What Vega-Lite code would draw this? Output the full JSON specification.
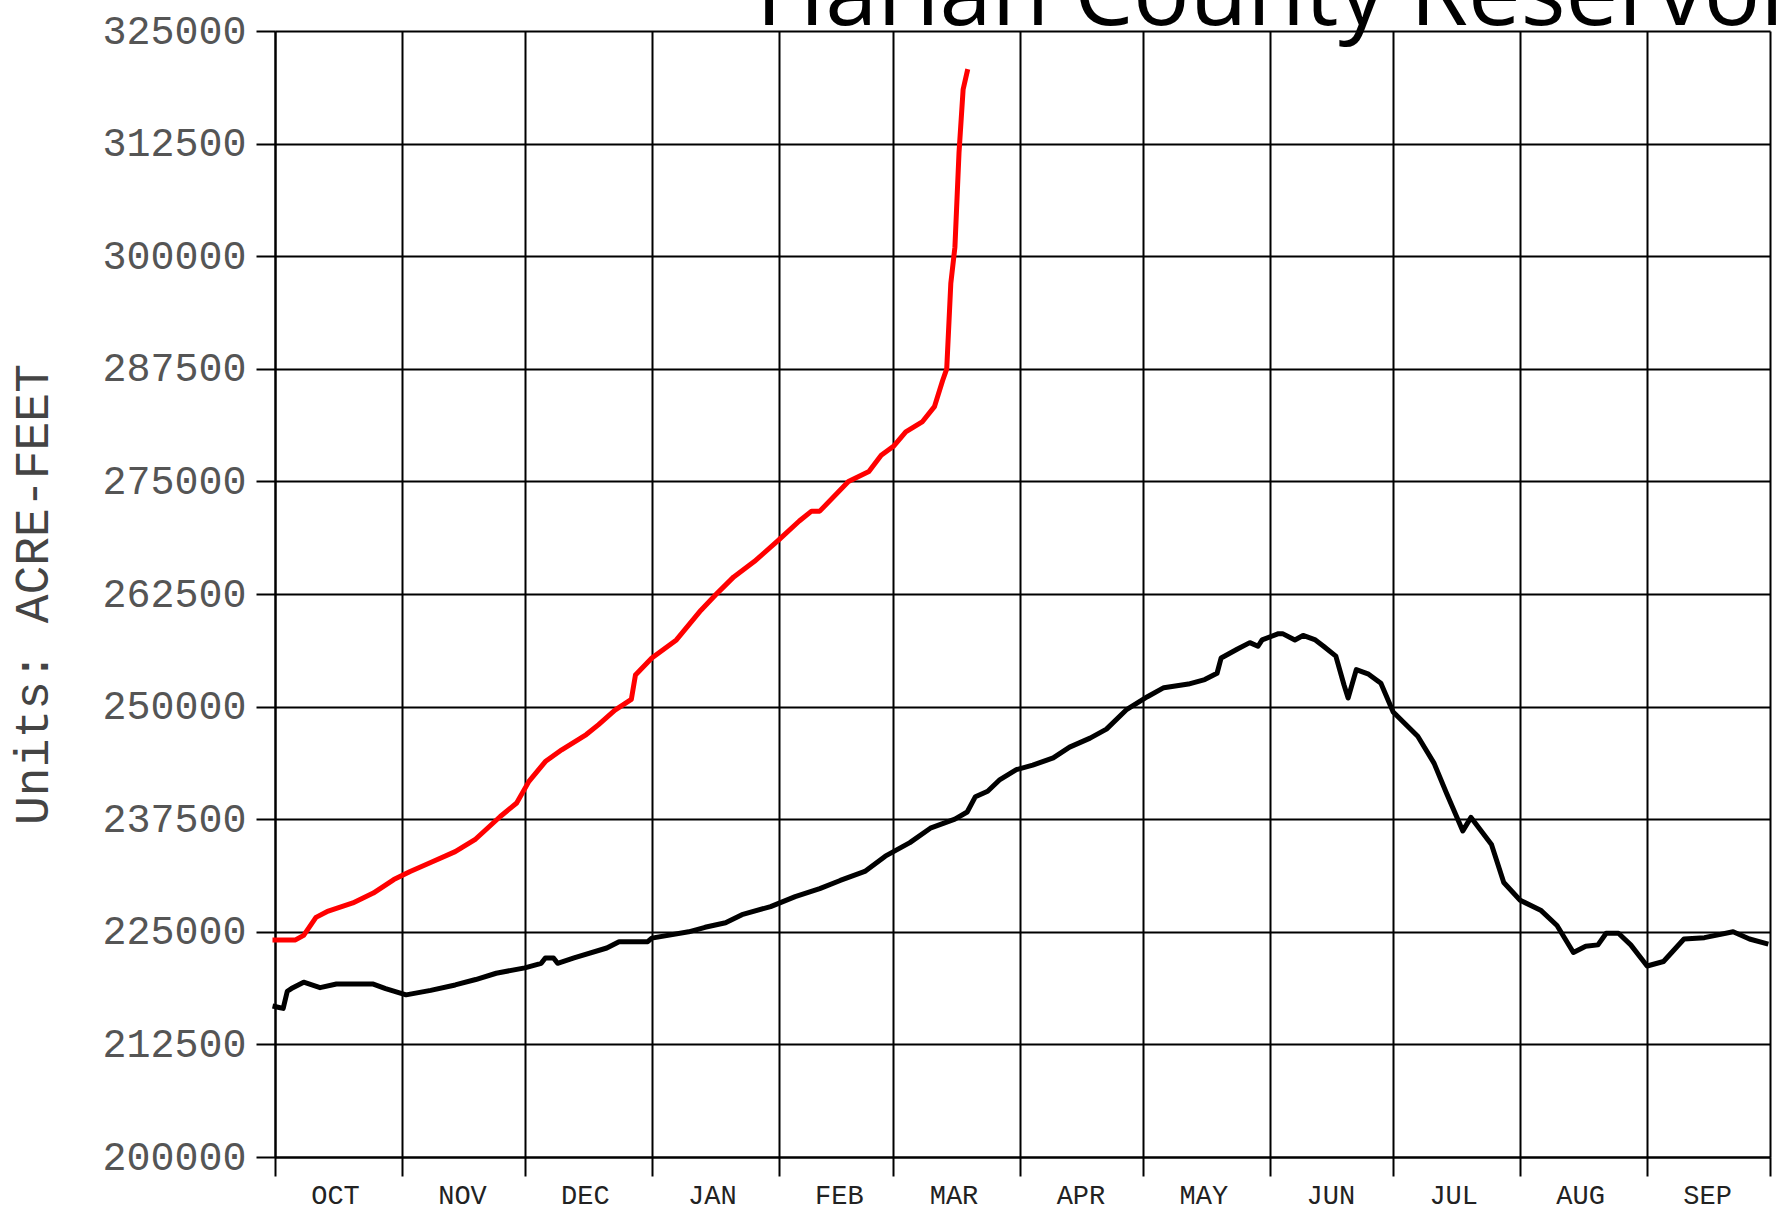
{
  "$schema": "https://vega.github.io/schema/vega-lite/v6.json",
  "autosize": {"type": "none"},
  "width": 1495,
  "height": 1126,
  "padding": {"left": 275, "top": 31, "right": 11, "bottom": 54},
  "background": "white",
  "config": {
    "view": {"stroke": null},
    "axis": {
      "grid": true,
      "gridColor": "black",
      "gridWidth": 2,
      "gridOpacity": 1,
      "domainColor": "black",
      "domainWidth": 2,
      "tickColor": "black",
      "tickWidth": 2,
      "tickSize": 19
    }
  },
  "datasets": {
    "storage": [
      {"date": "2018-10-01", "series": "Average", "acre_feet": 216700},
      {"date": "2018-10-02", "series": "Average", "acre_feet": 216600},
      {"date": "2018-10-03", "series": "Average", "acre_feet": 216500},
      {"date": "2018-10-04", "series": "Average", "acre_feet": 218400},
      {"date": "2018-10-05", "series": "Average", "acre_feet": 218700},
      {"date": "2018-10-08", "series": "Average", "acre_feet": 219400},
      {"date": "2018-10-12", "series": "Average", "acre_feet": 218800},
      {"date": "2018-10-16", "series": "Average", "acre_feet": 219200},
      {"date": "2018-10-25", "series": "Average", "acre_feet": 219200},
      {"date": "2018-10-28", "series": "Average", "acre_feet": 218700},
      {"date": "2018-11-02", "series": "Average", "acre_feet": 218000},
      {"date": "2018-11-08", "series": "Average", "acre_feet": 218500},
      {"date": "2018-11-14", "series": "Average", "acre_feet": 219100},
      {"date": "2018-11-19", "series": "Average", "acre_feet": 219700},
      {"date": "2018-11-24", "series": "Average", "acre_feet": 220400},
      {"date": "2018-12-01", "series": "Average", "acre_feet": 221000},
      {"date": "2018-12-05", "series": "Average", "acre_feet": 221500},
      {"date": "2018-12-06", "series": "Average", "acre_feet": 222100},
      {"date": "2018-12-08", "series": "Average", "acre_feet": 222100},
      {"date": "2018-12-09", "series": "Average", "acre_feet": 221500},
      {"date": "2018-12-13", "series": "Average", "acre_feet": 222100},
      {"date": "2018-12-21", "series": "Average", "acre_feet": 223200},
      {"date": "2018-12-24", "series": "Average", "acre_feet": 223900},
      {"date": "2018-12-31", "series": "Average", "acre_feet": 223900},
      {"date": "2019-01-01", "series": "Average", "acre_feet": 224300},
      {"date": "2019-01-10", "series": "Average", "acre_feet": 225000},
      {"date": "2019-01-14", "series": "Average", "acre_feet": 225500},
      {"date": "2019-01-19", "series": "Average", "acre_feet": 226000},
      {"date": "2019-01-23", "series": "Average", "acre_feet": 226900},
      {"date": "2019-01-30", "series": "Average", "acre_feet": 227800},
      {"date": "2019-02-05", "series": "Average", "acre_feet": 228900},
      {"date": "2019-02-11", "series": "Average", "acre_feet": 229800},
      {"date": "2019-02-16", "series": "Average", "acre_feet": 230700},
      {"date": "2019-02-22", "series": "Average", "acre_feet": 231700},
      {"date": "2019-02-27", "series": "Average", "acre_feet": 233400},
      {"date": "2019-03-05", "series": "Average", "acre_feet": 234900},
      {"date": "2019-03-10", "series": "Average", "acre_feet": 236500},
      {"date": "2019-03-16", "series": "Average", "acre_feet": 237500},
      {"date": "2019-03-19", "series": "Average", "acre_feet": 238300},
      {"date": "2019-03-21", "series": "Average", "acre_feet": 240000},
      {"date": "2019-03-24", "series": "Average", "acre_feet": 240600},
      {"date": "2019-03-27", "series": "Average", "acre_feet": 241900},
      {"date": "2019-03-31", "series": "Average", "acre_feet": 243000},
      {"date": "2019-04-04", "series": "Average", "acre_feet": 243500},
      {"date": "2019-04-09", "series": "Average", "acre_feet": 244300},
      {"date": "2019-04-13", "series": "Average", "acre_feet": 245500},
      {"date": "2019-04-18", "series": "Average", "acre_feet": 246500},
      {"date": "2019-04-22", "series": "Average", "acre_feet": 247500},
      {"date": "2019-04-27", "series": "Average", "acre_feet": 249700},
      {"date": "2019-05-02", "series": "Average", "acre_feet": 251100},
      {"date": "2019-05-06", "series": "Average", "acre_feet": 252100},
      {"date": "2019-05-12", "series": "Average", "acre_feet": 252500},
      {"date": "2019-05-16", "series": "Average", "acre_feet": 253000},
      {"date": "2019-05-19", "series": "Average", "acre_feet": 253700},
      {"date": "2019-05-20", "series": "Average", "acre_feet": 255400},
      {"date": "2019-05-24", "series": "Average", "acre_feet": 256400},
      {"date": "2019-05-27", "series": "Average", "acre_feet": 257100},
      {"date": "2019-05-29", "series": "Average", "acre_feet": 256700},
      {"date": "2019-05-30", "series": "Average", "acre_feet": 257400},
      {"date": "2019-06-03", "series": "Average", "acre_feet": 258100},
      {"date": "2019-06-04", "series": "Average", "acre_feet": 258100},
      {"date": "2019-06-07", "series": "Average", "acre_feet": 257400},
      {"date": "2019-06-09", "series": "Average", "acre_feet": 257900},
      {"date": "2019-06-12", "series": "Average", "acre_feet": 257400},
      {"date": "2019-06-14", "series": "Average", "acre_feet": 256700},
      {"date": "2019-06-17", "series": "Average", "acre_feet": 255600},
      {"date": "2019-06-19", "series": "Average", "acre_feet": 252400},
      {"date": "2019-06-20", "series": "Average", "acre_feet": 250950},
      {"date": "2019-06-22", "series": "Average", "acre_feet": 254100},
      {"date": "2019-06-25", "series": "Average", "acre_feet": 253600},
      {"date": "2019-06-28", "series": "Average", "acre_feet": 252600},
      {"date": "2019-07-01", "series": "Average", "acre_feet": 249400},
      {"date": "2019-07-07", "series": "Average", "acre_feet": 246700},
      {"date": "2019-07-11", "series": "Average", "acre_feet": 243700},
      {"date": "2019-07-14", "series": "Average", "acre_feet": 240400},
      {"date": "2019-07-18", "series": "Average", "acre_feet": 236200},
      {"date": "2019-07-20", "series": "Average", "acre_feet": 237700},
      {"date": "2019-07-25", "series": "Average", "acre_feet": 234700},
      {"date": "2019-07-28", "series": "Average", "acre_feet": 230470},
      {"date": "2019-08-01", "series": "Average", "acre_feet": 228500},
      {"date": "2019-08-06", "series": "Average", "acre_feet": 227400},
      {"date": "2019-08-10", "series": "Average", "acre_feet": 225700},
      {"date": "2019-08-14", "series": "Average", "acre_feet": 222700},
      {"date": "2019-08-17", "series": "Average", "acre_feet": 223400},
      {"date": "2019-08-20", "series": "Average", "acre_feet": 223550},
      {"date": "2019-08-22", "series": "Average", "acre_feet": 224840},
      {"date": "2019-08-25", "series": "Average", "acre_feet": 224840},
      {"date": "2019-08-28", "series": "Average", "acre_feet": 223550},
      {"date": "2019-09-01", "series": "Average", "acre_feet": 221200},
      {"date": "2019-09-05", "series": "Average", "acre_feet": 221700},
      {"date": "2019-09-10", "series": "Average", "acre_feet": 224200},
      {"date": "2019-09-15", "series": "Average", "acre_feet": 224350},
      {"date": "2019-09-22", "series": "Average", "acre_feet": 225000},
      {"date": "2019-09-26", "series": "Average", "acre_feet": 224200},
      {"date": "2019-09-30", "series": "Average", "acre_feet": 223700},

      {"date": "2018-10-01", "series": "WY2019", "acre_feet": 224100},
      {"date": "2018-10-06", "series": "WY2019", "acre_feet": 224100},
      {"date": "2018-10-08", "series": "WY2019", "acre_feet": 224600},
      {"date": "2018-10-11", "series": "WY2019", "acre_feet": 226600},
      {"date": "2018-10-14", "series": "WY2019", "acre_feet": 227300},
      {"date": "2018-10-20", "series": "WY2019", "acre_feet": 228200},
      {"date": "2018-10-25", "series": "WY2019", "acre_feet": 229300},
      {"date": "2018-10-30", "series": "WY2019", "acre_feet": 230800},
      {"date": "2018-11-03", "series": "WY2019", "acre_feet": 231700},
      {"date": "2018-11-08", "series": "WY2019", "acre_feet": 232700},
      {"date": "2018-11-14", "series": "WY2019", "acre_feet": 233900},
      {"date": "2018-11-19", "series": "WY2019", "acre_feet": 235300},
      {"date": "2018-11-25", "series": "WY2019", "acre_feet": 237800},
      {"date": "2018-11-29", "series": "WY2019", "acre_feet": 239300},
      {"date": "2018-12-02", "series": "WY2019", "acre_feet": 241700},
      {"date": "2018-12-06", "series": "WY2019", "acre_feet": 243900},
      {"date": "2018-12-10", "series": "WY2019", "acre_feet": 245200},
      {"date": "2018-12-16", "series": "WY2019", "acre_feet": 246900},
      {"date": "2018-12-19", "series": "WY2019", "acre_feet": 248000},
      {"date": "2018-12-23", "series": "WY2019", "acre_feet": 249600},
      {"date": "2018-12-27", "series": "WY2019", "acre_feet": 250800},
      {"date": "2018-12-28", "series": "WY2019", "acre_feet": 253500},
      {"date": "2019-01-01", "series": "WY2019", "acre_feet": 255400},
      {"date": "2019-01-07", "series": "WY2019", "acre_feet": 257400},
      {"date": "2019-01-13", "series": "WY2019", "acre_feet": 260700},
      {"date": "2019-01-17", "series": "WY2019", "acre_feet": 262600},
      {"date": "2019-01-21", "series": "WY2019", "acre_feet": 264400},
      {"date": "2019-01-26", "series": "WY2019", "acre_feet": 266100},
      {"date": "2019-02-01", "series": "WY2019", "acre_feet": 268500},
      {"date": "2019-02-06", "series": "WY2019", "acre_feet": 270600},
      {"date": "2019-02-09", "series": "WY2019", "acre_feet": 271700},
      {"date": "2019-02-11", "series": "WY2019", "acre_feet": 271700},
      {"date": "2019-02-18", "series": "WY2019", "acre_feet": 275000},
      {"date": "2019-02-23", "series": "WY2019", "acre_feet": 276100},
      {"date": "2019-02-26", "series": "WY2019", "acre_feet": 277900},
      {"date": "2019-03-01", "series": "WY2019", "acre_feet": 278900},
      {"date": "2019-03-04", "series": "WY2019", "acre_feet": 280500},
      {"date": "2019-03-08", "series": "WY2019", "acre_feet": 281600},
      {"date": "2019-03-11", "series": "WY2019", "acre_feet": 283300},
      {"date": "2019-03-13", "series": "WY2019", "acre_feet": 286200},
      {"date": "2019-03-14", "series": "WY2019", "acre_feet": 287500},
      {"date": "2019-03-15", "series": "WY2019", "acre_feet": 297000},
      {"date": "2019-03-16", "series": "WY2019", "acre_feet": 301000},
      {"date": "2019-03-17", "series": "WY2019", "acre_feet": 311500},
      {"date": "2019-03-18", "series": "WY2019", "acre_feet": 318500},
      {"date": "2019-03-19", "series": "WY2019", "acre_feet": 320500}
    ],
    "heading": [
      {"label": "Harlan County Reservoir"}
    ]
  },
  "layer": [
    {
      "data": {"name": "storage"},
      "mark": {"type": "line", "strokeWidth": 5, "strokeJoin": "round", "strokeCap": "square"},
      "encoding": {
        "x": {
          "field": "date",
          "type": "temporal",
          "scale": {
            "type": "utc",
            "domain": [
              {"year": 2018, "month": 10, "date": 1, "utc": true},
              {"year": 2019, "month": 10, "date": 1, "utc": true}
            ],
            "nice": false
          },
          "axis": {
            "title": null,
            "values": [
              {"year": 2018, "month": 10, "date": 1, "utc": true},
              {"year": 2018, "month": 11, "date": 1, "utc": true},
              {"year": 2018, "month": 12, "date": 1, "utc": true},
              {"year": 2019, "month": 1, "date": 1, "utc": true},
              {"year": 2019, "month": 2, "date": 1, "utc": true},
              {"year": 2019, "month": 3, "date": 1, "utc": true},
              {"year": 2019, "month": 4, "date": 1, "utc": true},
              {"year": 2019, "month": 5, "date": 1, "utc": true},
              {"year": 2019, "month": 6, "date": 1, "utc": true},
              {"year": 2019, "month": 7, "date": 1, "utc": true},
              {"year": 2019, "month": 8, "date": 1, "utc": true},
              {"year": 2019, "month": 9, "date": 1, "utc": true},
              {"year": 2019, "month": 10, "date": 1, "utc": true}
            ],
            "labelExpr": "utcyear(datum.value) > 2018 && utcmonth(datum.value) == 9 ? '' : upper(utcFormat(datum.value, '%b'))",
            "labelFont": "Liberation Mono",
            "labelFontSize": 27,
            "labelColor": "#222",
            "labelOffset": 60,
            "labelPadding": 6,
            "labelAlign": "center",
            "labelOverlap": false,
            "labelFlush": false
          }
        },
        "y": {
          "field": "acre_feet",
          "type": "quantitative",
          "scale": {"domain": [200000, 325000], "nice": false, "zero": false},
          "axis": {
            "title": "Units: ACRE-FEET",
            "titleFont": "Liberation Mono",
            "titleFontSize": 48,
            "titleFontWeight": "normal",
            "titleColor": "#444",
            "titlePadding": 44,
            "values": [200000, 212500, 225000, 237500, 250000, 262500, 275000, 287500, 300000, 312500, 325000],
            "format": "d",
            "labelFont": "Liberation Mono",
            "labelFontSize": 40,
            "labelColor": "#555",
            "labelPadding": 10,
            "labelOverlap": false,
            "labelFlush": false
          }
        },
        "color": {
          "field": "series",
          "type": "nominal",
          "scale": {"domain": ["Average", "WY2019"], "range": ["black", "red"]},
          "legend": null
        }
      }
    },
    {
      "data": {"name": "heading"},
      "mark": {
        "type": "text",
        "font": "Open Sans",
        "fontSize": 94,
        "fontWeight": "normal",
        "color": "black",
        "align": "left",
        "baseline": "alphabetic"
      },
      "encoding": {
        "text": {"field": "label", "type": "nominal"},
        "x": {"datum": {"year": 2019, "month": 1, "date": 26, "hours": 10, "utc": true}, "type": "temporal"},
        "y": {"datum": 325650, "type": "quantitative"}
      }
    }
  ]
}
